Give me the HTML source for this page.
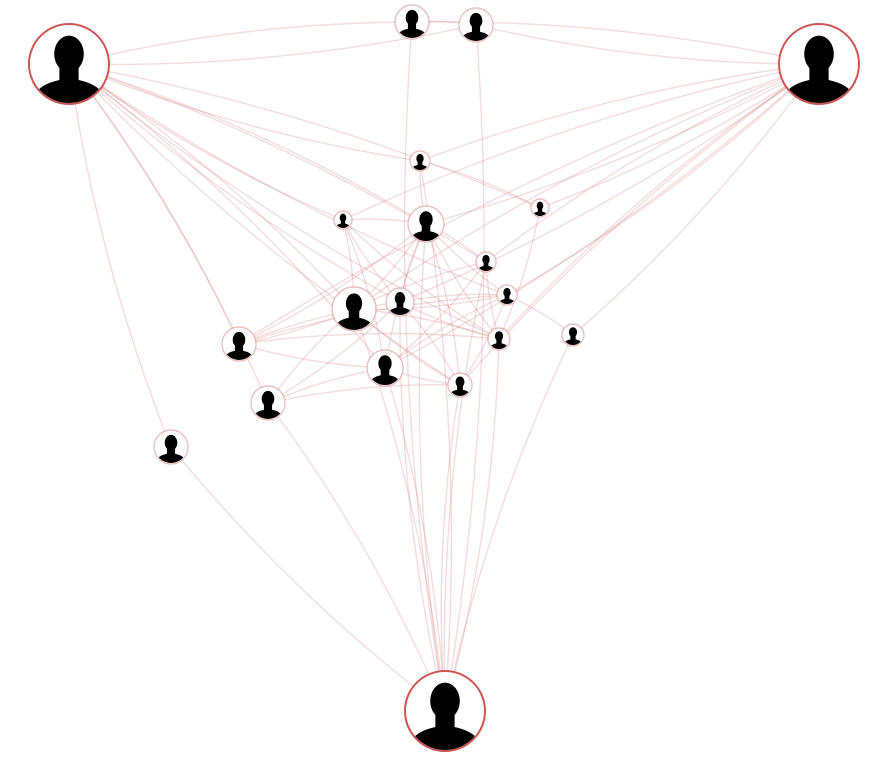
<!DOCTYPE html>
<html><head><meta charset="utf-8"><style>
html,body{margin:0;padding:0;background:#fff;}
svg{display:block;}
</style></head><body>
<svg id="chart" width="881" height="762" viewBox="0 0 881 762" xmlns="http://www.w3.org/2000/svg">
<defs id="defs"></defs>
<g id="edges"></g>
<g id="nodes"></g>
</svg>
<script>
const nodeIds=["A","B","C","n1","n2","n3","n4","n5","n6","n7","n8","n9","n10","n11","n12","n13","n14","n15","n16","n17"];
const nodeX=[69,819,445,412,476,420,426,343,540,486,507,354,400,239,499,573,385,460,268,171];
const nodeY=[64,64,711,22,25,161,224,220,208,262,295,309,302,344,339,335,368,385,403,447];
const nodeSize=[40,40,40,17,17,10,18,9,9,10,10,22,14,17,11,11,18,12,17,17];
const edges=[
["A","n1"],["A","n2"],["n1","B"],["n2","B"],["n1","n2"],
["A","n3"],["A","n4"],["A","n5"],["A","n7"],["A","n8"],["A","n9"],["A","n10"],["A","n11"],["A","n12"],["A","n14"],["A","n15"],["A","n16"],["A","n17"],["A","n6"],
["B","n3"],["B","n4"],["B","n5"],["B","n6"],["B","n7"],["B","n8"],["B","n9"],["B","n10"],["B","n12"],["B","n13"],["B","n15"],["B","n14"],["B","n11"],
["C","n1"],["C","n2"],["C","n4"],["C","n9"],["C","n10"],["C","n12"],["C","n13"],["C","n14"],["C","n15"],["C","n16"],["C","n17"],["C","n3"],["C","n7"],
["n4","n5"],["n4","n9"],["n4","n10"],["n4","n7"],["n4","n8"],["n4","n11"],["n4","n14"],["n4","n15"],["n4","n12"],
["n5","n9"],["n5","n10"],["n5","n14"],["n5","n12"],["n9","n11"],["n9","n16"],["n9","n7"],["n9","n8"],["n9","n12"],["n9","n15"],
["n10","n8"],["n10","n12"],["n10","n15"],["n10","n11"],["n10","n16"],["n11","n14"],["n11","n12"],["n14","n16"],["n14","n8"],["n14","n7"],
["n12","n7"],["n15","n8"],["n3","n6"],["n3","n4"],["n6","n12"],["n13","n8"],["n16","n15"],["n14","n15"],["n11","n8"]
];
const NS="http://www.w3.org/2000/svg";
const eg=document.getElementById('edges'),ng=document.getElementById('nodes'),defs=document.getElementById('defs');
function idx(id){return nodeIds.indexOf(id);}
edges.forEach((e,k)=>{
 const a=idx(e[0]),b=idx(e[1]);
 const x1=nodeX[a],y1=nodeY[a],x2=nodeX[b],y2=nodeY[b];
 const mx=(x1+x2)/2,my=(y1+y2)/2,dx=x2-x1,dy=y2-y1;
 const c=0.06*(k%2?1:-1);
 const p=document.createElementNS(NS,'path');
 p.setAttribute('d',`M${x1},${y1} Q${mx-dy*c},${my+dx*c} ${x2},${y2}`);
 p.setAttribute('fill','none');
 p.setAttribute('stroke','rgba(215,140,140,0.3)');
 p.setAttribute('stroke-width','1.4');
 
 
 eg.appendChild(p);
});
nodeIds.forEach((id,i)=>{
 const g=document.createElementNS(NS,'g');
 
 
 const r=nodeSize[i],x=nodeX[i],y=nodeY[i];
 const big=r>=30;
 const cp=document.createElementNS(NS,'clipPath');cp.setAttribute('id','cp'+i);
 const cc=document.createElementNS(NS,'circle');cc.setAttribute('cx',x);cc.setAttribute('cy',y);cc.setAttribute('r',r-1);cp.appendChild(cc);defs.appendChild(cp);
 const c=document.createElementNS(NS,'circle');
 c.setAttribute('cx',x);c.setAttribute('cy',y);c.setAttribute('r',r);
 c.setAttribute('fill','#fff');c.setAttribute('stroke',big?'#cc5555':'rgba(215,140,140,0.55)');c.setAttribute('stroke-width',big?2:1.4);
 g.appendChild(c);
 const s=document.createElementNS(NS,'g');
 s.setAttribute('clip-path','url(#cp'+i+')');
 const h=document.createElementNS(NS,'ellipse');
 h.setAttribute('cx',x);h.setAttribute('cy',y-0.25*r);h.setAttribute('rx',0.37*r);h.setAttribute('ry',0.46*r);h.setAttribute('fill','#000');
 s.appendChild(h);
 const b=document.createElementNS(NS,'path');
 const P=(px,py)=>(x+px*r)+','+(y+py*r);
 b.setAttribute('d',`M${P(-0.24,0)} L${P(-0.24,0.4)} Q${P(-0.7,0.5)} ${P(-0.85,0.75)} L${P(-0.85,1)} L${P(0.85,1)} L${P(0.85,0.75)} Q${P(0.7,0.5)} ${P(0.24,0.4)} L${P(0.24,0)} Z`);
 b.setAttribute('fill','#000');
 s.appendChild(b);
 g.appendChild(s);
 ng.appendChild(g);
});
</script>
</body></html>
